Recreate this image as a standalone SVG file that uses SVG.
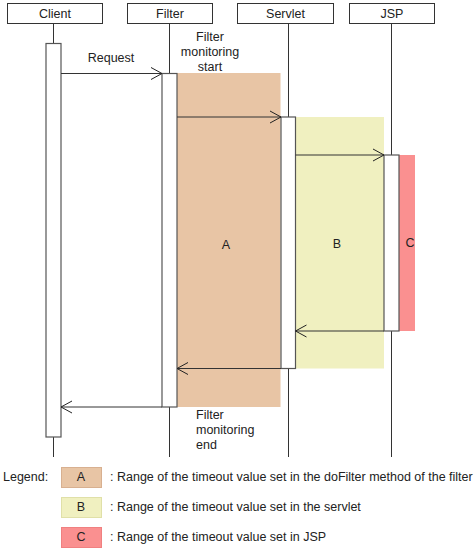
<svg xmlns="http://www.w3.org/2000/svg" width="475" height="551" viewBox="0 0 475 551">
<style>
text{font-family:"Liberation Sans",Arial,sans-serif;font-size:12.5px;fill:#222}
.hdr{fill:#fff;stroke:#333;stroke-width:1}
.life{stroke:#333;stroke-width:1;fill:none}
.act{fill:#fff;stroke:#555;stroke-width:1.2}
.msg{stroke:#333;stroke-width:1;fill:none}
.head{stroke:#222;stroke-width:1;fill:none}
.c{text-anchor:middle}
</style>
<rect width="475" height="551" fill="#fff"/>
<!-- ranges -->
<g id="rangeA"><rect x="177" y="73" width="103.5" height="334" fill="#E8C5A5"/><text class="c" x="226" y="249">A</text></g>
<g id="rangeB"><rect x="295" y="117" width="89" height="251.5" fill="#F0F0C0"/><text class="c" x="337" y="248">B</text></g>
<g id="rangeC"><rect x="399" y="155" width="16" height="176" fill="#FA9090"/><text class="c" x="410" y="247">C</text></g>
<!-- lifelines -->
<g id="lifelines">
<line class="life" x1="53.5" y1="23" x2="53.5" y2="457"/>
<line class="life" x1="169.5" y1="23" x2="169.5" y2="457"/>
<line class="life" x1="288.5" y1="23" x2="288.5" y2="457"/>
<line class="life" x1="391.5" y1="23" x2="391.5" y2="457"/>
</g>
<g id="client"><rect class="hdr" x="7.5" y="3.5" width="95" height="20"/><text class="c" x="55" y="18">Client</text><rect class="act" x="46" y="43.5" width="15" height="393.5"/></g>
<g id="filter"><rect class="hdr" x="127.5" y="3.5" width="85" height="20"/><text class="c" x="170" y="18">Filter</text><rect class="act" x="162" y="73.5" width="15" height="333.5"/></g>
<g id="servlet"><rect class="hdr" x="237.5" y="3.5" width="96" height="20"/><text class="c" x="285.5" y="18">Servlet</text><rect class="act" x="281" y="117" width="14.5" height="251.5"/></g>
<g id="jsp"><rect class="hdr" x="349.5" y="3.5" width="85" height="20"/><text class="c" x="392" y="18">JSP</text><rect class="act" x="384" y="155" width="15" height="176"/></g>
<!-- connectors -->
<g id="connectors">
<line class="msg" x1="61" y1="73.5" x2="162" y2="73.5"/><polyline class="head" points="151,67.5 162,73.5 151,79.5"/>
<line class="msg" x1="177" y1="117" x2="281" y2="117"/><polyline class="head" points="270,111 281,117 270,123"/>
<line class="msg" x1="295.5" y1="155" x2="384" y2="155"/><polyline class="head" points="373,149 384,155 373,161"/>
<line class="msg" x1="384" y1="331" x2="295.5" y2="331"/><polyline class="head" points="306.5,325 295.5,331 306.5,337"/>
<line class="msg" x1="281" y1="368.5" x2="177" y2="368.5"/><polyline class="head" points="188,362.5 177,368.5 188,374.5"/>
<line class="msg" x1="162" y1="407" x2="61" y2="407"/><polyline class="head" points="72,401 61,407 72,413"/>
</g>
<g id="labels">
<text class="c" x="111" y="62">Request</text>
<text class="c" x="210" y="41">Filter</text>
<text class="c" x="210" y="56">monitoring</text>
<text class="c" x="210" y="71">start</text>
<text x="196" y="419">Filter</text>
<text x="196" y="434">monitoring</text>
<text x="196" y="449">end</text>
</g>
<g id="legend">
<text x="3" y="481">Legend:</text>
<rect x="61.5" y="467.5" width="40" height="20" fill="#E8C5A5" stroke="#D8B090"/><text class="c" x="81" y="481">A</text>
<rect x="61.5" y="497.5" width="40" height="20" fill="#F0F0C0" stroke="#E0E0A8"/><text class="c" x="81" y="511">B</text>
<rect x="61.5" y="527.5" width="40" height="20" fill="#FA9090" stroke="#F08080"/><text class="c" x="81" y="541">C</text>
<text x="110" y="481">: Range of the timeout value set in the doFilter method of the filter</text>
<text x="110" y="511">: Range of the timeout value set in the servlet</text>
<text x="110" y="541">: Range of the timeout value set in JSP</text>
</g>
</svg>
